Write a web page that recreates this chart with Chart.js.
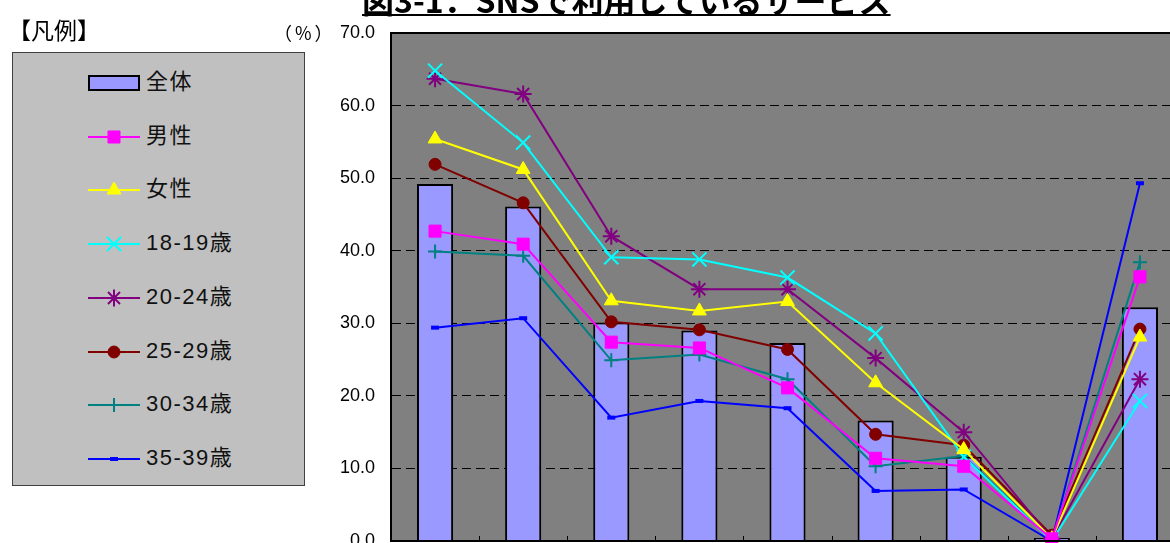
<!DOCTYPE html>
<html>
<head>
<meta charset="utf-8">
<script src="https://cdn.jsdelivr.net/npm/chart.js@4.4.1/dist/chart.umd.min.js"></script>
<style>
html, body { margin:0; padding:0; background:#fff; overflow:hidden; width:1170px; height:543px; }
#wrap { position:relative; width:1170px; height:543px; overflow:hidden; font-family:"Noto Sans CJK JP", sans-serif; }
#c { position:absolute; left:0; top:0; }
#title { position:absolute; left:362px; top:-24px; font-size:32px; font-weight:bold; white-space:nowrap; text-decoration:underline; text-decoration-thickness:2px; }
#hanrei { position:absolute; left:8px; top:12px; font-size:23px; }
#unit { position:absolute; left:274px; top:19px; font-size:18px; letter-spacing:3px; font-family:"Noto Sans CJK JP", sans-serif; }
#legend { position:absolute; left:12px; top:52px; width:293px; height:434px; box-sizing:border-box; background:#c0c0c0; border:1px solid #404040; }
.row { position:absolute; left:0; height:28px; width:290px; }
.row canvas { position:absolute; left:74px; top:0; }
.row span { position:absolute; left:133px; top:-2px; font-size:22px; line-height:30px; color:#111; letter-spacing:1.5px; white-space:nowrap; font-family:"Liberation Sans", "Noto Sans CJK JP", sans-serif; }
</style>
</head>
<body>
<div id="wrap">
  <canvas id="c" width="1196" height="600" style="width:1196px;height:600px"></canvas>
  <div id="title">図3-1．SNSで利用しているサービス</div>
  <div id="hanrei">【凡例】</div>
  <div id="unit">（%）</div>
  <div id="legend"></div>
</div>
<script>
// categories (labels are below the cut-off edge of the picture)
var categories = ['1', '2', '3', '4', '5', '6', '7', '8', '9'];
var yTicks = [0, 10, 20, 30, 40, 50, 60, 70];

var total    = [49.2, 46.1, 30.1, 29.0, 27.3, 16.6, 11.6, 0.4, 32.2];
var male     = [42.7, 40.9, 27.4, 26.6, 21.1, 11.4, 10.3, 0.3, 36.4];
var female   = [55.4, 51.2, 33.1, 31.7, 33.0, 21.8, 12.6, 0.3, 28.1];
var age18_19 = [64.8, 54.9, 39.1, 38.8, 36.3, 28.6, 11.6, 0.0, 19.3];
var age20_24 = [63.7, 61.6, 42.0, 34.7, 34.7, 25.2, 15.0, 0.3, 22.3];
var age25_29 = [51.9, 46.6, 30.2, 29.1, 26.4, 14.7, 13.2, 0.8, 29.2];
var age30_34 = [39.9, 39.3, 24.9, 25.7, 22.3, 10.3, 11.7, 0.2, 38.4];
var age35_39 = [29.4, 30.7, 17.0, 19.3, 18.3, 6.9, 7.1, 0.0, 49.3];

var lineSeries = [
  { label: '男性',     data: male,     color: '#ff00ff', style: 'rect',     r: 8.5, bw: 1 },
  { label: '女性',     data: female,   color: '#ffff00', style: 'triangle', r: 8,   bw: 1 },
  { label: '18-19歳', data: age18_19, color: '#00ffff', style: 'crossRot', r: 10,  bw: 2 },
  { label: '20-24歳', data: age20_24, color: '#800080', style: 'star',     r: 8.5, bw: 2 },
  { label: '25-29歳', data: age25_29, color: '#800000', style: 'circle',   r: 6,   bw: 1 },
  { label: '30-34歳', data: age30_34, color: '#008080', style: 'cross',    r: 7,   bw: 2 },
  { label: '35-39歳', data: age35_39, color: '#0000ff', style: 'line',     r: 4,   bw: 4 }
];

var datasets = [{
  type: 'bar',
  label: '全体',
  data: total,
  backgroundColor: '#9999ff',
  borderColor: '#000',
  borderWidth: 2,
  barPercentage: 0.41,
  categoryPercentage: 1,
  order: 10
}];
lineSeries.forEach(function(s){
  datasets.push({
    type: 'line',
    label: s.label,
    data: s.data,
    borderColor: s.color,
    backgroundColor: s.color,
    borderWidth: 2,
    pointStyle: s.style,
    pointRadius: s.r,
    pointBorderWidth: s.bw,
    pointBorderColor: s.color,
    pointBackgroundColor: s.color,
    tension: 0,
    clip: false,
    order: 1
  });
});

var plotDecor = {
  id: 'plotDecor',
  beforeDraw: function(chart){
    var a = chart.chartArea, ctx = chart.ctx;
    ctx.save();
    ctx.fillStyle = '#808080';
    ctx.fillRect(a.left, a.top, a.right - a.left, a.bottom - a.top);
    ctx.restore();
  },
  afterDraw: function(chart){
    var a = chart.chartArea, ctx = chart.ctx, x = chart.scales.x;
    ctx.save();
    ctx.strokeStyle = '#000';
    ctx.lineWidth = 2;
    ctx.strokeRect(a.left, a.top, a.right - a.left, a.bottom - a.top);
    // small inner tick marks between categories
    ctx.lineWidth = 1;
    for (var i = 1; i < categories.length; i++) {
      var px = Math.round((x.getPixelForTick(i - 1) + x.getPixelForTick(i)) / 2) + 0.5;
      ctx.beginPath();
      ctx.moveTo(px, a.bottom);
      ctx.lineTo(px, a.bottom - 5);
      ctx.stroke();
    }
    ctx.restore();
  }
};

new Chart(document.getElementById('c'), {
  data: { labels: categories, datasets: datasets },
  options: {
    responsive: false,
    animation: false,
    devicePixelRatio: 1,
    layout: { padding: { left: 0, right: 1, top: 33, bottom: 59 } },
    plugins: { legend: { display: false }, tooltip: { enabled: false } },
    scales: {
      x: {
        offset: true,
        ticks: { display: false },
        grid: { display: false, drawTicks: false },
        border: { display: true, color: '#000', width: 2 },
        afterFit: function(s){ s.height = 0; }
      },
      y: {
        min: 0,
        max: 70,
        afterBuildTicks: function(s){ s.ticks = yTicks.map(function(v){ return { value: v }; }); },
        ticks: {
          padding: 16,
          color: '#000',
          font: { family: 'Liberation Sans', size: 18 },
          callback: function(v){ return Number(v).toFixed(1); }
        },
        grid: { color: '#000', lineWidth: 1, drawTicks: false },
        border: { display: true, color: '#000', width: 2, dash: [9, 5] },
        afterFit: function(s){ s.width = 391; }
      }
    }
  },
  plugins: [plotDecor]
});

// legend built from the same series
var legend = document.getElementById('legend');
var items = [{ label: '全体', bar: true }].concat(lineSeries);
items.forEach(function(s, i){
  var row = document.createElement('div');
  row.className = 'row';
  row.style.top = (16 + i * 53.7) + 'px';
  var cv = document.createElement('canvas');
  cv.width = 56; cv.height = 28;
  var ctx = cv.getContext('2d');
  if (s.bar) {
    ctx.fillStyle = '#9999ff';
    ctx.fillRect(2, 7, 50, 14);
    ctx.strokeStyle = '#000';
    ctx.lineWidth = 2;
    ctx.strokeRect(2, 7, 50, 14);
  } else {
    ctx.strokeStyle = s.color;
    ctx.fillStyle = s.color;
    ctx.lineWidth = 2;
    ctx.beginPath();
    ctx.moveTo(1, 14); ctx.lineTo(53, 14);
    ctx.stroke();
    ctx.lineWidth = s.bw;
    Chart.helpers.drawPoint(ctx, { pointStyle: s.style, radius: s.r, rotation: 0, borderWidth: s.bw }, 27, 14);
  }
  row.appendChild(cv);
  var sp = document.createElement('span');
  sp.textContent = s.label;
  row.appendChild(sp);
  legend.appendChild(row);
});
</script>
</body>
</html>
